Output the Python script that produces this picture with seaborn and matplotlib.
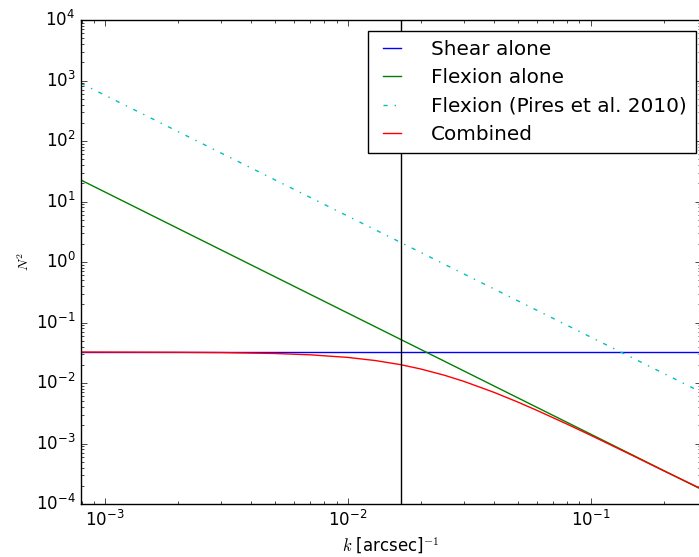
import numpy as np
import pandas as pd
import seaborn as sns
import matplotlib
matplotlib.use("Agg")
import matplotlib.pyplot as plt
from matplotlib.ticker import NullFormatter

# values (k in arcsec^-1, N^2)
shear_k = [7.96e-4, 0.285]
shear_n2 = [0.0325, 0.0325]

flexion_k = [7.96e-4, 0.285]
flexion_n2 = [22.6, 1.76e-4]

pires_k = [7.96e-4, 0.285]
pires_n2 = [900.0, 0.0071]

combined_k = [7.96e-4, 2e-3, 3e-3, 5e-3, 7e-3, 1e-2, 0.013, 0.0165, 0.02,
              0.025, 0.03, 0.04, 0.05, 0.06, 0.08, 0.1, 0.15, 0.2, 0.285]
combined_n2 = [0.0325, 0.0322, 0.03185, 0.03075, 0.02924, 0.02648, 0.02348,
               0.0201, 0.01702, 0.01343, 0.01067, 0.00701, 0.004864, 0.00354,
               0.00209, 0.00137, 6.24e-4, 3.54e-4, 1.79e-4]

k_cut = 0.0165

plt.style.use("classic")
plt.rcParams["mathtext.fontset"] = "cm"

fig = plt.figure(figsize=(6.99, 5.57), dpi=100, facecolor="white")
ax = fig.add_axes([81 / 699, 1 - 504 / 557, 620 / 699, 484 / 557])

sns.lineplot(x=shear_k, y=shear_n2, color="b", lw=1, label="Shear alone", ax=ax)
sns.lineplot(x=flexion_k, y=flexion_n2, color="g", lw=1, label="Flexion alone", ax=ax)
sns.lineplot(x=pires_k, y=pires_n2, color="c", lw=1, linestyle="-.",
             label="Flexion (Pires et al. 2010)", ax=ax)
sns.lineplot(x=combined_k, y=combined_n2, color="r", lw=1, label="Combined", ax=ax)
ax.axvline(k_cut, color="k", lw=1)

ax.set_xscale("log")
ax.set_yscale("log")
ax.set_xlim(7.96e-4, 0.285)
ax.set_ylim(1e-4, 1e4)
ax.xaxis.set_minor_formatter(NullFormatter())
ax.yaxis.set_minor_formatter(NullFormatter())
ax.set_xlabel(r"$k$ [arcsec]$^{-1}$", fontsize=12, labelpad=4)
ax.set_ylabel(r"$N^2$", fontsize=10, labelpad=3)
ax.tick_params(labelsize=12)
ax.xaxis.get_offset_text().set_visible(False)
ax.yaxis.get_offset_text().set_visible(False)

leg = ax.legend(loc="upper right", bbox_to_anchor=(696 / 699, 1 - 30.7 / 557),
                bbox_transform=fig.transFigure, borderaxespad=0, fontsize=14.4,
                fancybox=False, frameon=True, handlelength=1.5,
                handletextpad=1.2, labelspacing=0.47, borderpad=0.45)
leg.get_frame().set_edgecolor("black")

fig.savefig("out.png", dpi=100, facecolor="white")
